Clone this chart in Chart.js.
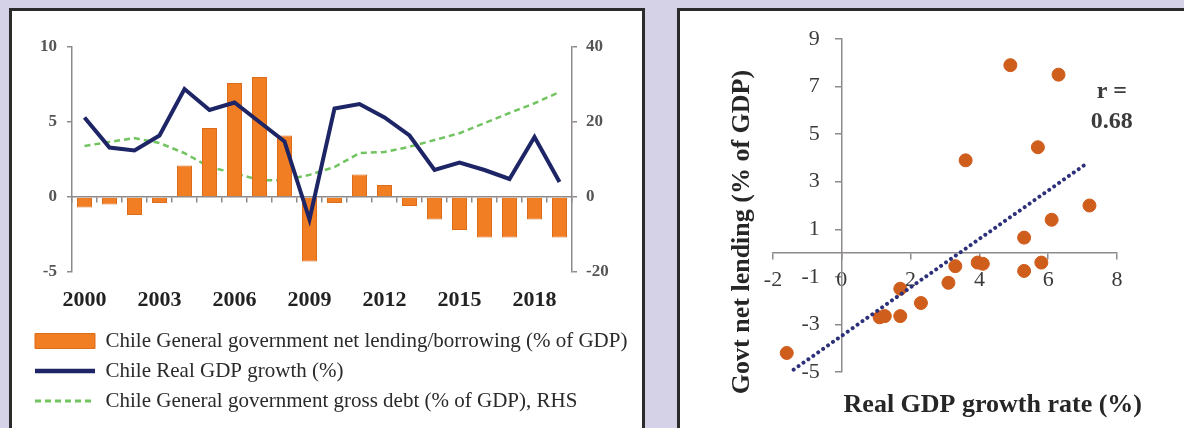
<!DOCTYPE html>
<html>
<head>
<meta charset="utf-8">
<title>Chile fiscal balance and growth</title>
<script src="https://cdn.jsdelivr.net/npm/chart.js@4.4.1/dist/chart.umd.min.js"></script>
<style>
  html, body { margin: 0; padding: 0; }
  body { width: 1184px; height: 428px; background: #d5d1e7; position: relative; overflow: hidden; }
  .panel { position: absolute; top: 8px; background: #fff; border: 3px solid #2b2b2b; border-bottom: none; }
  #leftPanel { left: 9px; width: 630px; height: 420px; }
  #rightPanel { left: 677px; width: 510px; height: 420px; border-right: none; }
  canvas { display: block; }
</style>
</head>
<body>
<div class="panel" id="leftPanel"><canvas id="leftChart" width="630" height="417"></canvas></div>
<div class="panel" id="rightPanel"><canvas id="rightChart" width="504" height="417"></canvas></div>
<script>
// Left panel: yearly series
const years = ['2000', '2001', '2002', '2003', '2004', '2005', '2006', '2007', '2008', '2009',
  '2010', '2011', '2012', '2013', '2014', '2015', '2016', '2017', '2018', '2019'];
const netLending = [-0.7, -0.5, -1.2, -0.4, 2.1, 4.6, 7.6, 8.0, 4.1, -4.3,
  -0.4, 1.5, 0.8, -0.6, -1.5, -2.2, -2.7, -2.7, -1.5, -2.7];
const gdpGrowth = [5.3, 3.3, 3.1, 4.1, 7.2, 5.8, 6.3, 5.0, 3.7, -1.5,
  5.9, 6.2, 5.3, 4.1, 1.8, 2.3, 1.8, 1.2, 4.0, 1.0];
const grossDebt = [13.6, 14.7, 15.7, 14.4, 11.7, 8.0, 6.4, 4.5, 4.5, 5.9,
  8.0, 11.7, 12.0, 13.4, 15.2, 17.0, 19.7, 22.4, 25.0, 28.0];

// Right panel: scatter of growth vs net lending, plus fitted line
const scatterGrowth = [4.9, 6.3, 5.7, 3.6, 7.2, 6.1, 5.3, 3.3, 3.95, 4.1,
  5.3, 5.8, 3.1, 2.3, 1.7, 1.1, 1.25, -1.6, 1.7];
const scatterLending = [7.9, 7.5, 4.45, 3.9, 2.0, 1.4, 0.65, -0.55, -0.4, -0.45,
  -0.75, -0.4, -1.25, -2.1, -2.65, -2.7, -2.65, -4.2, -1.5];
const trendGrowth = [-1.4, 7.15];
const trendLending = [-4.9, 3.8];
const correlationLines = ['r =', '0.68'];
const xTitle = 'Real GDP growth rate (%)';
const yTitle = 'Govt net lending (% of GDP)';

const serif = "'Liberation Serif', 'Times New Roman', serif";
const axisGray = '#8e8a8a';

// ---------- left chart ----------
new Chart(document.getElementById('leftChart'), {
  type: 'bar',
  data: {
    labels: years,
    datasets: [
      {
        label: 'Chile General government net lending/borrowing (% of GDP)',
        data: netLending,
        backgroundColor: '#f17e23',
        borderColor: '#dc6b1c',
        borderWidth: 1,
        categoryPercentage: 1,
        barPercentage: 0.6,
        yAxisID: 'y',
        order: 1
      },
      {
        type: 'line',
        label: 'Chile Real GDP growth (%)',
        data: gdpGrowth,
        borderColor: '#1d2566',
        borderWidth: 4,
        pointRadius: 0,
        yAxisID: 'y',
        order: 0
      },
      {
        type: 'line',
        label: 'Chile General government gross debt (% of GDP), RHS',
        data: grossDebt,
        borderColor: '#72c461',
        borderWidth: 2.5,
        borderDash: [6, 4],
        pointRadius: 0,
        yAxisID: 'y1',
        order: 2
      }
    ]
  },
  options: {
    responsive: false,
    animation: false,
    devicePixelRatio: 1,
    events: [],
    layout: { padding: { top: 36, left: 14, right: 0, bottom: 6.5 } },
    scales: {
      x: {
        grid: { display: false, drawTicks: false },
        border: { display: false },
        ticks: {
          autoSkip: false,
          maxRotation: 0,
          padding: 15,
          color: '#222',
          font: { family: serif, size: 22, weight: 'bold' },
          callback: (v, i) => (i % 3 === 0 ? years[i] : '')
        },
        afterFit: s => { s.height = 49.5; }
      },
      x2: {
        type: 'category',
        labels: years,
        position: { y: 0 },
        offset: true,
        grid: { offset: true, drawOnChartArea: false, tickLength: 5, color: axisGray, lineWidth: 1.5 },
        border: { color: axisGray, width: 1.5 },
        ticks: { display: false }
      },
      y: {
        min: -5,
        max: 10,
        ticks: { stepSize: 5, padding: 10, color: '#555', font: { family: serif, size: 17, weight: 'bold' } },
        grid: { drawOnChartArea: false, tickLength: 5, color: axisGray, lineWidth: 1.5 },
        border: { color: axisGray, width: 1.5 },
        afterFit: s => { s.width = 46; }
      },
      y1: {
        position: 'right',
        min: -20,
        max: 40,
        ticks: { stepSize: 20, padding: 9, color: '#555', font: { family: serif, size: 17, weight: 'bold' } },
        grid: { drawOnChartArea: false, tickLength: 5, color: axisGray, lineWidth: 1.5 },
        border: { color: axisGray, width: 1.5 },
        afterFit: s => { s.width = 70; }
      }
    },
    plugins: {
      tooltip: { enabled: false },
      legend: {
        position: 'bottom',
        align: 'start',
        labels: {
          usePointStyle: true,
          pointStyleWidth: 60,
          boxHeight: 15,
          padding: 9,
          color: '#333',
          font: { family: serif, size: 21 },
          generateLabels: chart => chart.data.datasets.map((ds, i) => ({
            text: ds.label,
            datasetIndex: i,
            fillStyle: ds.type === 'line' ? 'rgba(0,0,0,0)' : ds.backgroundColor,
            strokeStyle: ds.borderColor,
            lineWidth: ds.type === 'line' ? ds.borderWidth + 0.5 : 1,
            lineDash: ds.borderDash || [],
            pointStyle: ds.type === 'line' ? 'line' : 'rect',
            fontColor: '#2a2a2a',
            hidden: false
          }))
        }
      }
    }
  }
});

// ---------- right chart ----------
// axis titles and the correlation note
const extraText = {
  id: 'extraText',
  afterDraw(chart) {
    const { ctx, chartArea, scales } = chart;
    ctx.save();
    ctx.fillStyle = '#262626';
    ctx.textBaseline = 'middle';
    ctx.font = 'bold 26px ' + serif;
    ctx.textAlign = 'right';
    ctx.fillText(xTitle, chartArea.right + 25, chartArea.bottom + 33);

    ctx.save();
    ctx.translate(chartArea.left - 31, chartArea.top + 193);
    ctx.rotate(-Math.PI / 2);
    ctx.textAlign = 'center';
    ctx.fillText(yTitle, 0, 0);
    ctx.restore();

    ctx.textAlign = 'center';
    ctx.font = 'bold 24px ' + serif;
    ctx.fillStyle = '#3c3c3c';
    const nx = scales.x.getPixelForValue(7.85);
    ctx.fillText(correlationLines[0], nx, scales.y.getPixelForValue(6.76));
    ctx.fillText(correlationLines[1], nx, scales.y.getPixelForValue(5.5));
    ctx.restore();
  }
};

new Chart(document.getElementById('rightChart'), {
  type: 'scatter',
  data: {
    datasets: [
      {
        label: 'Chile',
        data: scatterGrowth.map((g, i) => ({ x: g, y: scatterLending[i] })),
        backgroundColor: '#cf5d1c',
        borderColor: '#cf5d1c',
        pointRadius: 6.5,
        order: 1
      },
      {
        label: 'Trend',
        data: trendGrowth.map((g, i) => ({ x: g, y: trendLending[i] })),
        showLine: true,
        borderColor: '#2d3179',
        borderWidth: 4,
        borderDash: [0.01, 6],
        borderCapStyle: 'round',
        pointRadius: 0,
        order: 0
      }
    ]
  },
  options: {
    responsive: false,
    animation: false,
    devicePixelRatio: 1,
    events: [],
    layout: { padding: { top: 28, left: 93, right: 67, bottom: 56 } },
    scales: {
      x: {
        type: 'linear',
        min: -2,
        max: 8,
        position: { y: 0 },
        z: 1,
        ticks: { stepSize: 2, padding: 8, color: '#3a3a3a', font: { family: serif, size: 22 } },
        grid: { drawOnChartArea: false, tickLength: 6, color: axisGray, lineWidth: 1.5 },
        border: { color: axisGray, width: 1.5 }
      },
      y: {
        min: -5,
        max: 9,
        position: { x: 0 },
        ticks: {
          stepSize: 2,
          color: '#3a3a3a',
          font: { family: serif, size: 22 },
          // labels of an axis placed inside the plot sit flush on the line; pad them off it
          callback: v => v + '\u2002\u2002'
        },
        grid: { drawOnChartArea: false, tickLength: 6, color: axisGray, lineWidth: 1.5 },
        border: { color: axisGray, width: 1.5 }
      }
    },
    plugins: {
      tooltip: { enabled: false },
      legend: { display: false }
    }
  },
  plugins: [extraText]
});
</script>
</body>
</html>
